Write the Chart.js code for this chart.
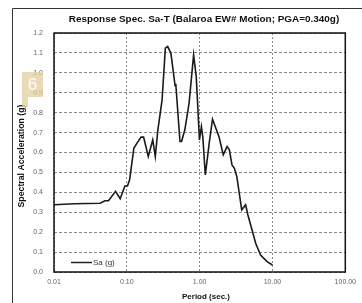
<!DOCTYPE html>
<html>
<head>
<meta charset="utf-8">
<script src="https://cdn.jsdelivr.net/npm/chart.js@4"></script>
<style>
  html, body { margin: 0; padding: 0; background: #fff; }
  #wrap { width: 362px; height: 303px; position: relative; }
</style>
</head>
<body>
<div id="wrap"><canvas id="chart" width="362" height="303"></canvas></div>
<script>
"use strict";

// Periode (s) och spektralacceleration (g)
const periods = [0.01, 0.019, 0.043, 0.05, 0.056, 0.07, 0.081, 0.094, 0.102, 0.109,
  0.125, 0.138, 0.157, 0.17, 0.197, 0.227, 0.246, 0.267, 0.305, 0.338,
  0.364, 0.403, 0.46, 0.47, 0.537, 0.565, 0.626, 0.716, 0.826, 0.898,
  0.994, 1.057, 1.104, 1.197, 1.353, 1.502, 1.84, 2.11, 2.38, 2.56,
  2.78, 3.0, 3.24, 3.78, 4.28, 4.6, 5.31, 5.88, 6.86, 8.43, 10.0];
const saValues = [0.338, 0.343, 0.345, 0.358, 0.358, 0.405, 0.368, 0.432, 0.432, 0.462,
  0.622, 0.647, 0.677, 0.677, 0.58, 0.663, 0.58, 0.714, 0.864, 1.124,
  1.132, 1.099, 0.935, 0.945, 0.655, 0.655, 0.714, 0.848, 1.09, 0.981,
  0.663, 0.73, 0.68, 0.487, 0.647, 0.767, 0.68, 0.588, 0.63, 0.613,
  0.538, 0.521, 0.479, 0.312, 0.337, 0.286, 0.203, 0.144, 0.085, 0.052, 0.035];
const xTicks = [0.01, 0.1, 1, 10, 100];
const seriesName = "Sa (g)";
const chartTitle = "Response Spec. Sa-T (Balaroa EW# Motion; PGA=0.340g)";
const xTitle = "Period (sec.)";
const yTitle = "Spectral Acceleration (g)";

const points = periods.map((p, i) => ({ x: p, y: saValues[i] }));

/**
 * Ritar ram, rubriker, förklaring och den lilla "6"-etiketten
 */
const decorations = {
  id: "decorations",
  beforeDraw(chart) {
    const ctx = chart.ctx;
    ctx.save();
    ctx.fillStyle = "#fff";
    ctx.fillRect(0, 0, chart.width, chart.height);
    ctx.strokeStyle = "#333";
    ctx.lineWidth = 1;
    ctx.beginPath();
    ctx.moveTo(12.5, chart.height);
    ctx.lineTo(12.5, 8.5);
    ctx.lineTo(chart.width, 8.5);
    ctx.stroke();
    ctx.restore();
  },
  afterDraw(chart) {
    const ctx = chart.ctx;
    const area = chart.chartArea;
    ctx.save();

    // ram runt ritytan
    ctx.strokeStyle = "#111";
    ctx.lineWidth = 1.5;
    ctx.strokeRect(area.left, area.top, area.right - area.left, area.bottom - area.top);

    // rubrik
    ctx.fillStyle = "#111";
    ctx.textAlign = "center";
    ctx.textBaseline = "middle";
    ctx.font = "bold 10px 'Liberation Sans'";
    let w = ctx.measureText(chartTitle).width;
    let size = 10 * 271 / w;
    ctx.font = "bold " + size.toFixed(2) + "px 'Liberation Sans'";
    ctx.fillText(chartTitle, 204, 19);

    // x-axelns titel
    ctx.font = "bold 8px 'Liberation Sans'";
    ctx.fillText(xTitle, 206, 297);

    // y-axelns titel
    ctx.save();
    ctx.translate(22, 156);
    ctx.rotate(-Math.PI / 2);
    ctx.font = "bold 10px 'Liberation Sans'";
    w = ctx.measureText(yTitle).width;
    size = 10 * 103 / w;
    ctx.font = "bold " + size.toFixed(2) + "px 'Liberation Sans'";
    ctx.fillText(yTitle, 0, 0);
    ctx.restore();

    // förklaring inne i ritytan
    ctx.strokeStyle = "#222";
    ctx.lineWidth = 1.5;
    ctx.beginPath();
    ctx.moveTo(71, 262.5);
    ctx.lineTo(92, 262.5);
    ctx.stroke();
    ctx.textAlign = "left";
    ctx.font = "8px 'Liberation Sans'";
    ctx.fillStyle = "#333";
    ctx.fillText(seriesName, 93, 263);

    // "6"-etiketten
    ctx.fillStyle = "rgba(226, 205, 160, 0.75)";
    ctx.fillRect(22, 72, 21, 25);
    ctx.fillRect(22, 97, 6, 10);
    ctx.fillStyle = "#fff";
    ctx.textAlign = "center";
    ctx.font = "17px 'Liberation Sans'";
    ctx.fillText("6", 32.5, 85);

    ctx.restore();
  }
};

new Chart(document.getElementById("chart"), {
  type: "line",
  data: {
    datasets: [{
      label: seriesName,
      data: points,
      borderColor: "#1a1a1a",
      borderWidth: 1.6,
      pointRadius: 0,
      tension: 0,
      fill: false
    }]
  },
  options: {
    responsive: false,
    animation: false,
    layout: { padding: { top: 33, left: 0, right: 9, bottom: 0 } },
    plugins: {
      legend: { display: false },
      title: { display: false },
      tooltip: { enabled: false }
    },
    scales: {
      x: {
        type: "logarithmic",
        min: 0.01,
        max: 100,
        afterBuildTicks: scale => {
          scale.ticks = xTicks.map(v => ({ value: v }));
        },
        afterFit: scale => { scale.height = 31; },
        ticks: {
          autoSkip: false,
          maxRotation: 0,
          padding: 6,
          color: "#666",
          font: { family: "'Liberation Sans'", size: 7 },
          callback: v => Number(v).toFixed(2)
        },
        grid: {
          color: "#8a8a8a",
          lineWidth: 1,
          drawTicks: false
        },
        border: { display: false, dash: [2, 2] }
      },
      y: {
        min: 0,
        max: 1.2,
        afterFit: scale => { scale.width = 54; },
        ticks: {
          stepSize: 0.1,
          padding: 11,
          color: "#666",
          font: { family: "'Liberation Sans'", size: 7 },
          callback: v => Number(v).toFixed(1)
        },
        grid: {
          color: "#8a8a8a",
          lineWidth: 1,
          drawTicks: false
        },
        border: { display: false, dash: [3, 2] }
      }
    }
  },
  plugins: [decorations]
});
</script>
</body>
</html>
